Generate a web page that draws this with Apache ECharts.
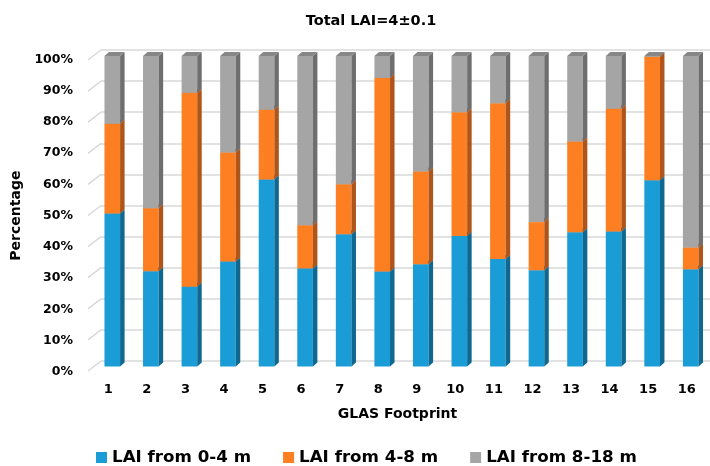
<!DOCTYPE html>
<html>
<head>
<meta charset="utf-8">
<script src="https://cdn.jsdelivr.net/npm/echarts@6/dist/echarts.min.js"></script>
<style>
  html, body { margin: 0; padding: 0; background: #ffffff; }
  #chart { width: 710px; height: 466px; }
</style>
</head>
<body>
<div id="chart"></div>
<script>
// GLAS footprints and the share of LAI in each height layer (%)
const footprints = ['1', '2', '3', '4', '5', '6', '7', '8', '9', '10', '11', '12', '13', '14', '15', '16'];
const lai0to4  = [49.3, 30.7, 25.7, 33.8, 60.2, 31.6, 42.6, 30.6, 32.9, 42.0, 34.6, 31.0, 43.2, 43.5, 60.0, 31.3];
const lai4to8  = [28.9, 20.3, 62.4, 35.1, 22.5, 13.9, 16.1, 62.3, 29.9, 39.9, 50.2, 15.5, 29.3, 39.5, 39.7, 7.0];
const lai8to18 = [21.8, 49.0, 11.9, 31.1, 17.3, 54.5, 41.3, 7.1, 37.2, 18.1, 15.2, 53.5, 27.5, 17.0, 0.3, 61.7];
const seriesNames = ['LAI from 0-4 m', 'LAI from 4-8 m', 'LAI from 8-18 m'];
const percentTicks = [0, 10, 20, 30, 40, 50, 60, 70, 80, 90, 100];

const FONT = 'DejaVu Sans';
// front / side / top shades of each layer
const shades = [
  { front: '#1a9cd6', side: '#0e6890', top: '#137fb0' },
  { front: '#fd7f21', side: '#b0551a', top: '#d96c1c' },
  { front: '#a5a5a5', side: '#6e6e6e', top: '#878787' }
];
const DEPTH_X = 4.5, DEPTH_Y = 4, BAR_RATIO = 0.405;

// stack the three layers: each item is [category, start, end]
const layers = [lai0to4, lai4to8, lai8to18];
const stacked = layers.map(() => []);
footprints.forEach((f, i) => {
  let acc = 0;
  layers.forEach((arr, k) => {
    stacked[k].push([i, acc, acc + arr[i]]);
    acc += arr[i];
  });
});

function barRenderer(k) {
  return function (params, api) {
    const cat = api.value(0);
    const base = api.coord([cat, api.value(1)]);
    const top = api.coord([cat, api.value(2)]);
    const w = api.size([1, 0])[0] * BAR_RATIO;
    const left = base[0] - w / 2, right = left + w;
    const s = shades[k];
    return {
      type: 'group',
      children: [
        { type: 'rect', shape: { x: left, y: top[1], width: w, height: base[1] - top[1] },
          style: { fill: s.front } },
        { type: 'polygon', shape: { points: [[right, base[1]], [right + DEPTH_X, base[1] - DEPTH_Y],
            [right + DEPTH_X, top[1] - DEPTH_Y], [right, top[1]]] }, style: { fill: s.side } },
        { type: 'polygon', shape: { points: [[left, top[1]], [left + DEPTH_X, top[1] - DEPTH_Y],
            [right + DEPTH_X, top[1] - DEPTH_Y], [right, top[1]]] }, style: { fill: s.top } }
      ]
    };
  };
}

// back-wall gridlines with the short slanted floor edge on the left
function stubRenderer(params, api) {
  const p = api.coord([0, api.value(1)]);
  return { type: 'line', shape: { x1: p[0] - 13, y1: p[1] + 10, x2: p[0], y2: p[1] },
    style: { stroke: '#d9d9d9', lineWidth: 1.5 } };
}

const chart = echarts.init(document.getElementById('chart'), null, { renderer: 'canvas' });
chart.setOption({
  animation: false,
  backgroundColor: '#ffffff',
  textStyle: { fontFamily: FONT },
  title: {
    text: 'Total LAI=4±0.1',
    left: 366, top: 9, textAlign: 'center',
    textStyle: { fontFamily: FONT, fontWeight: 'bold', fontSize: 14.5, color: '#000' }
  },
  legend: {
    left: 91, top: 444,
    itemWidth: 11, itemHeight: 11, itemGap: 32,
    icon: 'rect',
    data: seriesNames,
    textStyle: { fontFamily: FONT, fontWeight: 'bold', fontSize: 16.7, color: '#000' }
  },
  grid: [
    { left: 93, right: -4, top: 56, bottom: 99.5 },   // bars
    { left: 101, right: 0, top: 50, bottom: 105 },    // back wall
    { left: 88, right: 0, top: 59.5, bottom: 94.3 }   // tick labels at the floor front
  ],
  xAxis: [
    {
      gridIndex: 0, type: 'category', data: footprints,
      axisLine: { show: false }, axisTick: { show: false },
      axisLabel: { fontFamily: FONT, fontWeight: 'bold', fontSize: 13, color: '#000', margin: 17,
        padding: [0, 8, 0, 0] },
      name: 'GLAS Footprint', nameLocation: 'middle', nameGap: 41,
      nameTextStyle: { fontFamily: FONT, fontWeight: 'bold', fontSize: 14, color: '#000', padding: [0, 8, 0, 0] }
    },
    { gridIndex: 1, type: 'value', min: 0, max: 1, show: false },
    { gridIndex: 2, type: 'value', min: 0, max: 1, show: false }
  ],
  yAxis: [
    { gridIndex: 0, type: 'value', min: 0, max: 100, interval: 10, show: false },
    {
      gridIndex: 1, type: 'value', min: 0, max: 100, interval: 10,
      axisLine: { show: false }, axisTick: { show: false }, axisLabel: { show: false },
      splitLine: { show: true, lineStyle: { color: '#d9d9d9', width: 1.5 } }
    },
    {
      gridIndex: 2, type: 'value', min: 0, max: 100, interval: 10,
      axisLine: { show: false }, axisTick: { show: false }, splitLine: { show: false },
      axisLabel: { formatter: '{value}%', fontFamily: FONT, fontWeight: 'bold', fontSize: 12.5,
        color: '#000', margin: 15 },
      name: 'Percentage', nameLocation: 'middle', nameGap: 55,
      nameTextStyle: { fontFamily: FONT, fontWeight: 'bold', fontSize: 14, color: '#000' }
    }
  ],
  series: [
    {
      type: 'custom', name: 'wall-edge', xAxisIndex: 1, yAxisIndex: 1, silent: true,
      renderItem: stubRenderer, data: percentTicks.map(v => [0, v]), z: 1
    }
  ].concat(seriesNames.map((name, k) => ({
    type: 'custom', name: name, xAxisIndex: 0, yAxisIndex: 0,
    itemStyle: { color: shades[k].front },
    encode: { x: 0, y: [1, 2] },
    renderItem: barRenderer(k),
    data: stacked[k], z: 2
  })))
});
</script>
</body>
</html>
